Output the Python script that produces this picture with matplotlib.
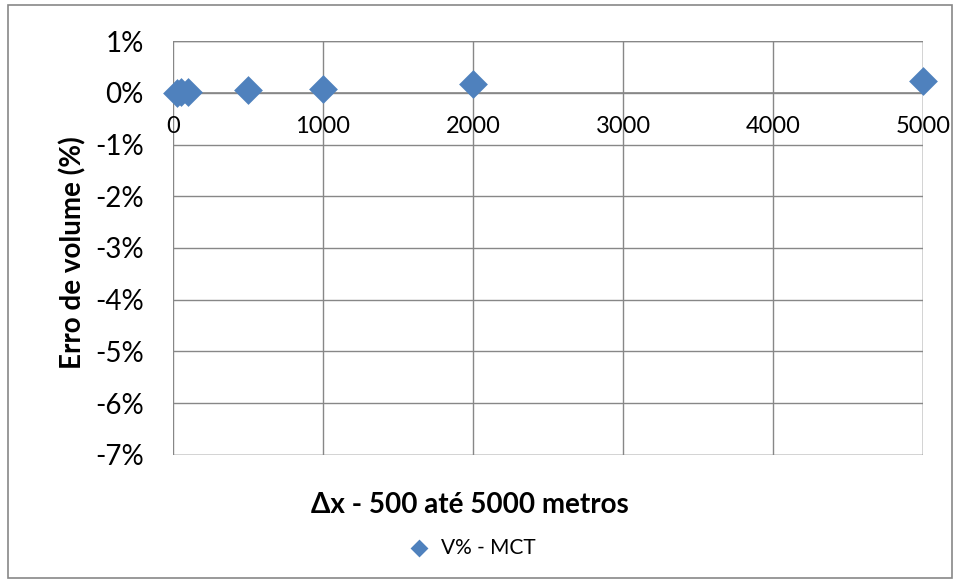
import matplotlib
matplotlib.use("Agg")
import matplotlib.pyplot as plt
from matplotlib.ticker import FuncFormatter, MultipleLocator
from matplotlib.patches import Rectangle

plt.rcParams['font.family'] = ['Lato', 'DejaVu Sans']

# Grid spacing (m) and volume error (%)
dx = [25, 50, 100, 500, 1000, 2000, 5000]
erro = [0.0, 0.01, 0.02, 0.06, 0.08, 0.16, 0.22]
serie = "V% - MCT"
xlabel = "Δx - 500 até 5000 metros"
ylabel = "Erro de volume (%)"

grid_c = "#878787"
mark_c = "#4F81BD"

fig = plt.figure(figsize=(9.59, 5.81), dpi=100)
ax = fig.add_axes([0.1804, 0.2169, 0.7821, 0.7125])

ax.scatter(dx, erro, marker="D", s=215, color=mark_c, zorder=5,
           clip_on=False, label=serie, linewidths=0)

ax.set_xlim(0, 5000)
ax.set_ylim(-7, 1)
ax.xaxis.set_major_locator(MultipleLocator(1000))
ax.yaxis.set_major_locator(MultipleLocator(1))
ax.yaxis.set_major_formatter(FuncFormatter(lambda v, p: f"{v:.0f}%"))
ax.grid(True, color=grid_c, linewidth=1)
ax.set_axisbelow(True)

for side in ["left", "right", "top", "bottom"]:
    ax.spines[side].set_visible(False)
ax.axhline(0, color=grid_c, linewidth=1.2, zorder=1)
ax.axvline(0, color=grid_c, linewidth=1.2, zorder=1)
ax.axvline(5000, color=grid_c, linewidth=1, zorder=1)
ax.axhline(-7, color=grid_c, linewidth=1, zorder=1)
ax.axhline(1, color=grid_c, linewidth=1, zorder=1)

ax.tick_params(axis="y", length=0, pad=21, labelsize=20, labelcolor="#000000")
ax.tick_params(axis="x", length=0, labelsize=17, labelcolor="#000000")

# x tick labels sit just under the zero line
ax.set_xticklabels([])
for t in range(0, 5001, 1000):
    ax.annotate(f"{t}", xy=(t, 0), xytext=(0, -24), textcoords="offset points",
                ha="center", va="center", fontsize=17, color="#000000")

ax.set_ylabel(ylabel, fontsize=20, fontweight="bold")
ax.yaxis.set_label_coords(-0.116, 0.488)
fig.text(0.49, 0.131, xlabel, ha="center", va="center",
         fontsize=20, fontweight="bold")

fig.legend(loc="center", bbox_to_anchor=(0.487, 0.0570), frameon=False,
           fontsize=15, handletextpad=0.05, markerscale=0.62)

fig.patches.append(Rectangle((0.008, 0.006), 0.985, 0.985, transform=fig.transFigure,
                             fill=False, edgecolor=grid_c, linewidth=1.2))

fig.savefig("out.png", dpi=100)
